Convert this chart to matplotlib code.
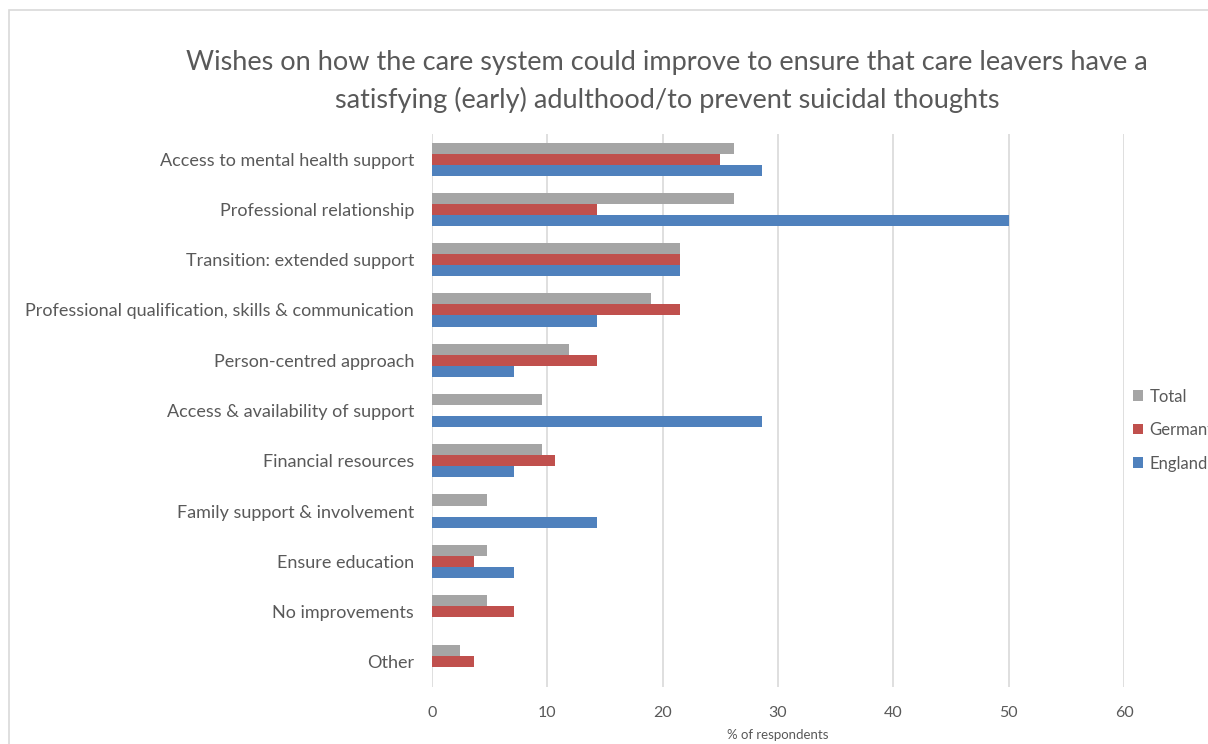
import numpy as np
import matplotlib
matplotlib.use("Agg")
import matplotlib.pyplot as plt
from matplotlib.patches import Rectangle

plt.rcParams['font.family'] = ['Lato', 'DejaVu Sans']

# categories, top to bottom
categories = ['Access to mental health support',
              'Professional relationship',
              'Transition: extended support',
              'Professional qualification, skills & communication',
              'Person-centred approach',
              'Access & availability of support',
              'Financial resources',
              'Family support & involvement',
              'Ensure education',
              'No improvements',
              'Other']
total = [26.2, 26.2, 21.5, 19.0, 11.9, 9.5, 9.5, 4.8, 4.8, 4.8, 2.4]
germany = [25.0, 14.3, 21.5, 21.5, 14.3, 0, 10.7, 0, 3.6, 7.1, 3.6]
england = [28.6, 50.0, 21.5, 14.3, 7.1, 28.6, 7.1, 14.3, 7.1, 0, 0]
x_ticks = [0, 10, 20, 30, 40, 50, 60]

txt = '#595959'
grid = '#D9D9D9'

fig = plt.figure(figsize=(12.08, 7.44), dpi=100)
ax = fig.add_axes([432 / 1208, 57 / 744, 692 / 1208, 553 / 744])

y = np.arange(len(categories))
h = 0.22
ax.barh(y - h, total, height=h, color='#A5A5A5', label='Total', zorder=3)
ax.barh(y, germany, height=h, color='#C0504D', label='Germany', zorder=3)
ax.barh(y + h, england, height=h, color='#4F81BD', label='England', zorder=3)

ax.set_xlim(0, 60)
ax.set_ylim(len(categories) - 0.5, -0.5)
ax.set_xticks(x_ticks)
ax.set_yticks(y)
ax.set_yticklabels(categories)
ax.grid(axis='x', color=grid, linewidth=1.2, zorder=0)
for s in ax.spines.values():
    s.set_visible(False)
ax.tick_params(axis='y', length=0, pad=13, labelsize=13.0, labelcolor=txt)
ax.tick_params(axis='x', length=0, pad=14, labelsize=11.5, labelcolor=txt)
ax.set_xlabel('% of respondents', fontsize=9.5, color=txt, labelpad=6)

fig.suptitle('Wishes on how the care system could improve to ensure that care leavers have a\n'
             'satisfying (early) adulthood/to prevent suicidal thoughts',
             x=667 / 1208, y=1 - 50 / 744, va='top', fontsize=19.5, color=txt,
             linespacing=1.55)

handles, labels = ax.get_legend_handles_labels()
leg = fig.legend(handles, labels, loc='center left', bbox_to_anchor=(1118 / 1208, 1 - 430 / 744),
                 frameon=False, fontsize=12, labelcolor=txt, handlelength=0.6,
                 handleheight=0.6, handletextpad=0.4, labelspacing=1.05)

fig.patches.append(Rectangle((9 / 1208, -0.1), 1.2, 1 - 10 / 744 + 0.1,
                             transform=fig.transFigure, fill=False,
                             edgecolor=grid, linewidth=1.2))

fig.savefig('out.png', dpi=100)
